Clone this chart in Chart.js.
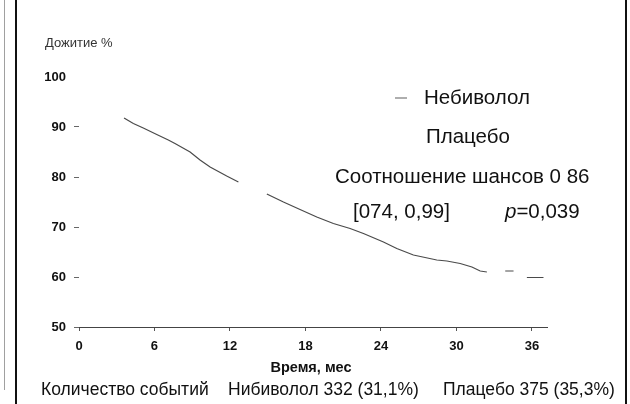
<!DOCTYPE html>
<html>
<head>
<meta charset="utf-8">
<script src="https://cdn.jsdelivr.net/npm/chart.js@4.4.1/dist/chart.umd.min.js"></script>
<style>
  html, body { margin: 0; padding: 0; background: #fff; }
  #wrap { position: relative; width: 630px; height: 404px; }
  canvas { display: block; }
</style>
</head>
<body>
<div id="wrap"><canvas id="c" width="630" height="404"></canvas></div>
<script>
// ---- data ----
const months = [3.58, 4.32, 5.11, 6.18, 7.1, 7.63, 8.83, 9.62, 10.42, 11.74, 12.67, 13.8,
  14.93, 16.25, 17.57, 18.9, 20.22, 21.55, 22.61, 24.2, 25.26, 26.58, 28.44, 29.24,
  30.3, 31.23, 31.89, 32.42, 33.2, 33.88, 34.54, 35.1, 35.6, 36.92];
const nebivolol = [91.8, 90.7, 89.8, 88.5, 87.4, 86.7, 85.0, 83.4, 82.0, 80.2, 79.0, null,
  76.6, 75.0, 73.5, 72.0, 70.7, 69.7, 68.7, 67.0, 65.7, 64.4, 63.4, 63.2,
  62.7, 62.0, 61.2, 61.0, null, 61.2, 61.2, null, 59.9, 59.9];
const xTicks = [0, 6, 12, 18, 24, 30, 36];
const yTicks = [50, 60, 70, 80, 90, 100];
const seriesNames = ['Небиволол', 'Плацебо'];
const statLines = ['Соотношение шансов 0 86', '[074, 0,99]', 'p', '=0,039'];
const yTitle = 'Дожитие %';
const xTitle = 'Время, мес';
const footer = ['Количество событий', 'Нибиволол 332 (31,1%)', 'Плацебо 375 (35,3%)'];

const FONT = "'Liberation Sans', Arial, Helvetica, sans-serif";
Chart.defaults.font.family = FONT;
const lineColor = '#4a4a4a';

const decor = {
  id: 'decor',
  beforeDraw(chart) {
    const ctx = chart.ctx;
    ctx.save();
    ctx.fillStyle = '#fff';
    ctx.fillRect(0, 0, chart.width, chart.height);
    ctx.restore();
  },
  afterDraw(chart) {
    const ctx = chart.ctx;
    ctx.save();
    // frame lines of the scanned page
    ctx.fillStyle = '#a0a0a0';
    ctx.fillRect(4, 0, 1, 390);
    ctx.fillStyle = '#111';
    ctx.fillRect(15, 0, 2, 404);
    ctx.fillRect(625, 0, 2, 404);

    ctx.textBaseline = 'middle';
    ctx.textAlign = 'left';
    // y title
    ctx.font = '13px ' + FONT;
    ctx.fillStyle = '#333';
    ctx.fillText(yTitle, 45, 43);

    // legend
    ctx.strokeStyle = '#777';
    ctx.lineWidth = 1.2;
    ctx.beginPath();
    ctx.moveTo(395, 98);
    ctx.lineTo(407, 98);
    ctx.stroke();
    ctx.fillStyle = '#111';
    ctx.font = '20.5px ' + FONT;
    ctx.fillText(seriesNames[0], 424, 98);
    ctx.fillText(seriesNames[1], 426, 137);
    ctx.fillText(statLines[0], 335, 177);
    ctx.fillText(statLines[1], 353, 212);
    ctx.font = 'italic 20.5px ' + FONT;
    ctx.fillText(statLines[2], 505, 212);
    const pw = ctx.measureText(statLines[2]).width;
    ctx.font = '20.5px ' + FONT;
    ctx.fillText(statLines[3], 505 + pw, 212);

    // x title
    ctx.font = 'bold 14.5px ' + FONT;
    ctx.textAlign = 'center';
    ctx.fillText(xTitle, 311, 368);

    // footer
    ctx.textAlign = 'left';
    ctx.font = '17.5px ' + FONT;
    ctx.fillText(footer[0], 41, 390);
    ctx.fillText(footer[1], 228, 390);
    ctx.fillText(footer[2], 443, 390);
    ctx.restore();
  }
};

const points = months.map((m, i) => ({ x: m, y: nebivolol[i] }));

new Chart(document.getElementById('c'), {
  type: 'line',
  data: {
    datasets: [{
      label: seriesNames[0],
      data: points,
      borderColor: lineColor,
      borderWidth: 1.2,
      pointRadius: 0,
      spanGaps: false,
      tension: 0,
      fill: false
    }]
  },
  options: {
    responsive: false,
    animation: false,
    devicePixelRatio: 1,
    layout: { padding: { left: 0, right: 83, top: 77, bottom: 0 } },
    plugins: { legend: { display: false }, tooltip: { enabled: false }, title: { display: false } },
    scales: {
      x: {
        type: 'linear',
        min: 0,
        max: 37.2,
        afterBuildTicks(scale) { scale.ticks = xTicks.map(v => ({ value: v })); },
        afterFit(scale) { scale.height = 77; },
        ticks: { color: '#111', font: { size: 13, weight: 'bold' }, padding: 8, maxRotation: 0, autoSkip: false },
        grid: { drawOnChartArea: false, drawTicks: true, tickLength: 4, color: '#555' },
        border: { display: true, color: '#444', width: 1 }
      },
      y: {
        type: 'linear',
        min: 50,
        max: 100,
        afterBuildTicks(scale) { scale.ticks = yTicks.map(v => ({ value: v })); },
        afterFit(scale) { scale.width = 79; },
        ticks: { color: '#111', font: { size: 13, weight: 'bold' }, padding: 8 },
        grid: {
          drawOnChartArea: false, drawTicks: true, tickLength: 5,
          color: (c) => (c.tick && c.tick.value === 100) ? 'rgba(0,0,0,0)' : '#666'
        },
        border: { display: false }
      }
    }
  },
  plugins: [decor]
});
</script>
</body>
</html>
